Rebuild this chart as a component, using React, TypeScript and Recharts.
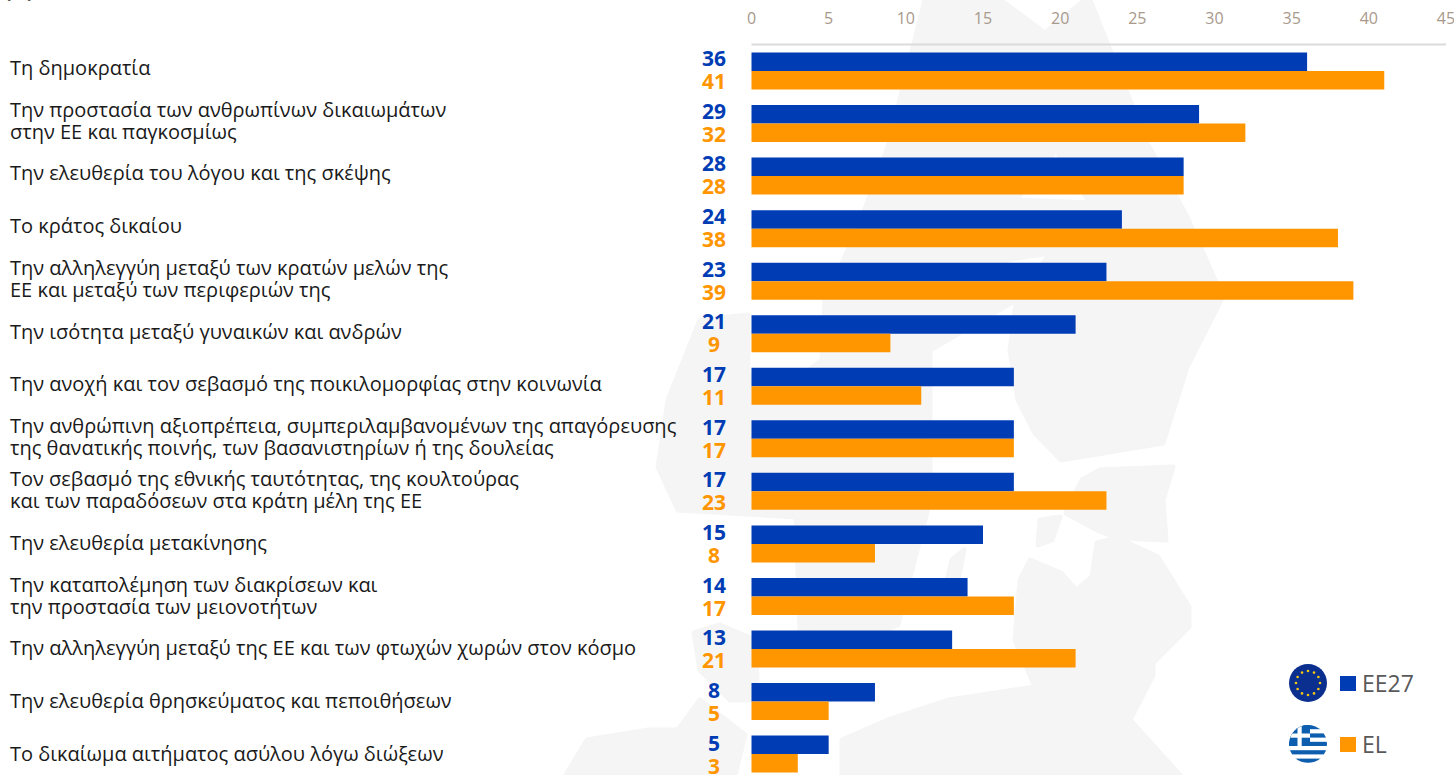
import React from 'react';
import { BarChart, Bar, XAxis, YAxis, Legend, LabelList } from 'recharts';

// one line break per label, as in the source chart
const categories = [
  'Τη δημοκρατία',
  'Την προστασία των ανθρωπίνων δικαιωμάτων\nστην ΕΕ και παγκοσμίως',
  'Την ελευθερία του λόγου και της σκέψης',
  'Το κράτος δικαίου',
  'Την αλληλεγγύη μεταξύ των κρατών μελών της\nΕΕ και μεταξύ των περιφεριών της',
  'Την ισότητα μεταξύ γυναικών και ανδρών',
  'Την ανοχή και τον σεβασμό της ποικιλομορφίας στην κοινωνία',
  'Την ανθρώπινη αξιοπρέπεια, συμπεριλαμβανομένων της απαγόρευσης\nτης θανατικής ποινής, των βασανιστηρίων ή της δουλείας',
  'Τον σεβασμό της εθνικής ταυτότητας, της κουλτούρας\nκαι των παραδόσεων στα κράτη μέλη της ΕΕ',
  'Την ελευθερία μετακίνησης',
  'Την καταπολέμηση των διακρίσεων και\nτην προστασία των μειονοτήτων',
  'Την αλληλεγγύη μεταξύ της ΕΕ και των φτωχών χωρών στον κόσμο',
  'Την ελευθερία θρησκεύματος και πεποιθήσεων',
  'Το δικαίωμα αιτήματος ασύλου λόγω διώξεων',
];
const eu27Values = [36, 29, 28, 24, 23, 21, 17, 17, 17, 15, 14, 13, 8, 5];
const elValues = [41, 32, 28, 38, 39, 9, 11, 17, 23, 8, 17, 21, 5, 3];
const xTicks = [0, 5, 10, 15, 20, 25, 30, 35, 40, 45];

const BLUE = '#003cb4';
const ORANGE = '#ff9600';
const FONT = '"Open Sans", sans-serif';

const data = categories.map((category, i) => ({
  category,
  eu27: eu27Values[i],
  el: elValues[i],
}));

// faint map behind the bars, decoration only
const MAP_SHAPES = [
  'M925 0 L888 147 L856 233 L825 300 L822 360 L790 385 L748 375 L748 315 L700 320 L668 400 L658 467 L678 510 L796 517 L800 630 L860 640 L898 625 L908 585 L930 500 L930 350 L1016 300 L1005 260 L1050 253 L1090 203 L1016 200 L1056 150 L1050 100 L1079 20 L1085 0 L1045 33 L1010 7 L1000 0 Z',
  'M1090 0 L1147 143 L1187 217 L1215 280 L1221 300 L1187 367 L1163 443 L1061 460 L1035 433 L1018 400 L1010 350 L1016 303 L1050 253 L1090 203 L1056 150 L1050 100 L1079 20 Z',
  'M1082 480 L1100 470 L1173 467 L1163 500 L1166 540 L1117 538 L1097 530 L1066 513 Z',
  'M1015 640 L1020 580 L1030 560 L1061 573 L1076 590 L1092 577 L1097 543 L1117 538 L1158 557 L1189 607 L1189 627 L1153 663 L1153 675 L1130 720 L1180 775 L1097 775 L1082 723 L964 723 L949 700 L1035 687 Z',
  'M842 740 L888 720 L949 700 L964 723 L1082 723 L1097 775 L842 775 Z',
  'M694 633 L720 625 L755 640 L758 700 L730 700 L700 670 Z',
  'M566 775 L587 740 L648 730 L678 730 L700 700 L745 735 L735 775 Z',
  'M1040 520 L1060 517 L1052 540 L1038 545 Z',
  'M946 585 L952 560 L964 550 L958 580 Z',
];

const CategoryTick = (props: any) => {
  const lines = String(props.payload.value).split('\n');
  // the source labels drift slightly against the bar rows
  const firstY = props.y - 3 + props.index * 0.23 - (lines.length - 1) * 11;
  return (
    <text x={10} fontSize={20} fontFamily={FONT} fill="#1a1a1a">
      {lines.map((line, i) => (
        <tspan key={i} x={10} y={firstY + i * 22} dy="0.35em">
          {line}
        </tspan>
      ))}
    </text>
  );
};

const valueLabel = (color: string, shift: number) => (props: any) => (
  <text
    x={714}
    y={props.y + props.height / 2 + shift + props.index * 0.15}
    dy="0.36em"
    textAnchor="middle"
    fontSize={21}
    fontWeight={700}
    fontFamily={FONT}
    fill={color}
  >
    {props.value}
  </text>
);

const EuFlag = () => {
  const stars = Array.from({ length: 12 }, (_, i) => i * 30);
  return (
    <svg width={38} height={38} viewBox="-19 -19 38 38" style={{ display: 'block' }}>
      <circle r={19} fill="#0a2f8f" />
      {stars.map((deg) => (
        <circle
          key={deg}
          r={1.3}
          cx={12 * Math.cos((deg * Math.PI) / 180)}
          cy={12 * Math.sin((deg * Math.PI) / 180)}
          fill="#f2c811"
        />
      ))}
    </svg>
  );
};

const GreekFlag = () => (
  <svg width={38} height={38} viewBox="0 0 38 38" style={{ display: 'block' }}>
    <defs>
      <clipPath id="gr-circle">
        <circle cx={19} cy={19} r={19} />
      </clipPath>
    </defs>
    <g clipPath="url(#gr-circle)">
      <rect width={38} height={38} fill="#fff" />
      {[0, 2, 4, 6, 8].map((row) => (
        <rect key={row} y={row * 4.2} width={38} height={4.2} fill="#0d5eaf" />
      ))}
      <rect width={21} height={21} fill="#0d5eaf" />
      <rect x={8.5} width={4.2} height={21} fill="#fff" />
      <rect y={8.5} width={21} height={4.2} fill="#fff" />
    </g>
  </svg>
);

const flags: Record<string, React.ReactNode> = { eu27: <EuFlag />, el: <GreekFlag /> };

const LegendBlock = (props: any) => (
  <div>
    {props.payload.map((item: any) => (
      <div
        key={item.dataKey}
        style={{ display: 'flex', alignItems: 'center', height: 38, marginBottom: 23 }}
      >
        {flags[item.dataKey]}
        <span style={{ width: 16, height: 15, marginLeft: 13, background: item.color }} />
        <span style={{ marginLeft: 6, fontSize: 23, fontFamily: FONT, color: '#595959' }}>
          {item.value}
        </span>
      </div>
    ))}
  </div>
);

export default function App() {
  return (
    <div
      style={{
        position: 'absolute',
        left: 0,
        top: 0,
        width: 1454,
        height: 775,
        overflow: 'hidden',
        background: '#fff',
      }}
    >
      <svg
        width={1454}
        height={775}
        style={{ position: 'absolute', left: 0, top: 0 }}
      >
        {MAP_SHAPES.map((d, i) => (
          <path key={i} d={d} fill="#f5f5f5" stroke="#f5f5f5" strokeWidth={5} strokeLinejoin="round" />
        ))}
        <text x={5} y={-2} fontSize={18} fontWeight={700} fontFamily={FONT} fill="#1a1a1a">
          (%)
        </text>
      </svg>
      <div style={{ position: 'absolute', left: 0, top: 0 }}>
        <BarChart
          width={1454}
          height={781}
          data={data}
          layout="vertical"
          barSize={18.5}
          barGap={0}
          margin={{ top: 0, right: 8, bottom: 0.9, left: 0 }}
        >
          <XAxis
            type="number"
            orientation="top"
            domain={[0, 45]}
            ticks={xTicks}
            interval={0}
            height={44.5}
            tickLine={false}
            tickMargin={15}
            axisLine={{ stroke: '#dbdbdb', strokeWidth: 2 }}
            tick={{ fill: '#a8998c', fontSize: 16, fontFamily: FONT }}
          />
          <YAxis
            type="category"
            dataKey="category"
            width={751.5}
            interval={0}
            tickLine={false}
            axisLine={false}
            tick={CategoryTick}
          />
          <Legend
            layout="vertical"
            align="center"
            verticalAlign="middle"
            content={LegendBlock}
            wrapperStyle={{ position: 'absolute', left: 1289, top: 664, width: 160, bottom: 'auto' }}
          />
          <Bar dataKey="eu27" name="EE27" fill={BLUE} isAnimationActive={false}>
            <LabelList dataKey="eu27" content={valueLabel(BLUE, -3.5)} />
          </Bar>
          <Bar dataKey="el" name="EL" fill={ORANGE} isAnimationActive={false}>
            <LabelList dataKey="el" content={valueLabel(ORANGE, 1)} />
          </Bar>
        </BarChart>
      </div>
    </div>
  );
}
